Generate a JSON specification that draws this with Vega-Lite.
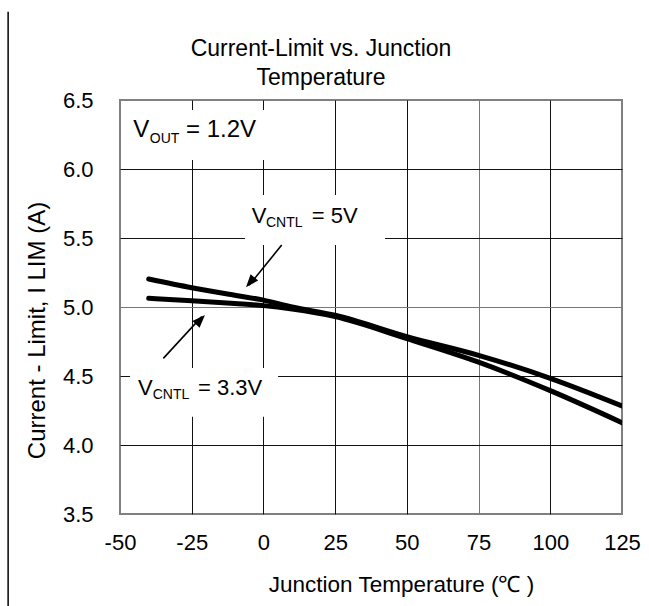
{
  "$schema": "https://vega.github.io/schema/vega-lite/v6.json",
  "width": 502,
  "height": 414,
  "autosize": {"type": "none"},
  "padding": {"left": 120, "top": 100, "right": 27, "bottom": 92},
  "background": "white",
  "config": {"view": {"stroke": "#808080", "strokeWidth": 2}, "font": "Liberation Sans"},
  "title": {
    "text": ["Current-Limit vs. Junction", "Temperature"],
    "fontSize": 23, "fontWeight": "normal", "font": "Liberation Sans", "color": "black",
    "anchor": "middle", "dx": -50, "dy": 89, "lineHeight": 29, "offset": 10
  },
  "datasets": {
    "curves": [
      {"series": "5V", "T": -40, "I": 5.203},
      {"series": "5V", "T": -25, "I": 5.14},
      {"series": "5V", "T": -10, "I": 5.085},
      {"series": "5V", "T": 0, "I": 5.05},
      {"series": "5V", "T": 10, "I": 5.0},
      {"series": "5V", "T": 25, "I": 4.94},
      {"series": "5V", "T": 50, "I": 4.785},
      {"series": "5V", "T": 75, "I": 4.65},
      {"series": "5V", "T": 100, "I": 4.483},
      {"series": "5V", "T": 125, "I": 4.283},
      {"series": "3.3V", "T": -40, "I": 5.063},
      {"series": "3.3V", "T": -25, "I": 5.045},
      {"series": "3.3V", "T": -10, "I": 5.025},
      {"series": "3.3V", "T": 0, "I": 5.01},
      {"series": "3.3V", "T": 10, "I": 4.985},
      {"series": "3.3V", "T": 25, "I": 4.93},
      {"series": "3.3V", "T": 50, "I": 4.77},
      {"series": "3.3V", "T": 75, "I": 4.6},
      {"series": "3.3V", "T": 100, "I": 4.394},
      {"series": "3.3V", "T": 125, "I": 4.162}
    ],
    "boxes": [
      {"T": -49.6, "T2": 2.3, "I": 6.065, "I2": 6.428},
      {"T": -6.4, "T2": 42.4, "I": 5.449, "I2": 5.812},
      {"T": -46.5, "T2": 5.1, "I": 4.205, "I2": 4.558}
    ],
    "arrows": [
      {"name": "5V", "T": 6.37, "I": 5.449, "T2": -5.0, "I2": 5.157},
      {"name": "3.3V", "T": -34.9, "I": 4.628, "T2": -21.5, "I2": 4.93}
    ],
    "tips": [
      {"name": "5V", "T": -6.08, "I": 5.143},
      {"name": "3.3V", "T": -20.37, "I": 4.942}
    ],
    "labels": [
      {"T": -45.35, "I": 6.234, "label": "V", "size": "big"},
      {"T": -27.0, "I": 6.234, "label": "= 1.2V", "size": "big"},
      {"T": -4.09, "I": 5.611, "label": "V", "size": "mid"},
      {"T": 16.83, "I": 5.611, "label": "= 5V", "size": "mid"},
      {"T": -43.73, "I": 4.362, "label": "V", "size": "mid"},
      {"T": -22.8, "I": 4.362, "label": "= 3.3V", "size": "mid"}
    ],
    "subs": [
      {"T": -39.6, "I": 6.191, "label": "OUT"},
      {"T": 0.9, "I": 5.582, "label": "CNTL"},
      {"T": -38.6, "I": 4.333, "label": "CNTL"}
    ],
    "edge": [
      {"T": -89.0, "I": 7.14, "I2": 2.8}
    ]
  },
  "encoding": {
    "x": {
      "field": "T", "type": "quantitative",
      "scale": {"domain": [-50, 125], "nice": false, "zero": false},
      "axis": {
        "values": [-50, -25, 0, 25, 50, 75, 100, 125],
        "labelExpr": "datum.value < 0 ? '-' + abs(datum.value) : '' + datum.value",
        "ticks": false, "domain": false,
        "labelFont": "Liberation Sans", "labelFontSize": 22, "labelColor": "black",
        "labelPadding": 18, "labelFlush": false, "labelOverlap": false,
        "gridColor": {"condition": {"test": "datum.value === 75", "value": "#777777"}, "value": "#111111"},
        "gridOpacity": {"condition": {"test": "datum.value === -50 || datum.value === 125", "value": 0}, "value": 1},
        "gridWidth": 1,
        "title": "Junction Temperature (℃ )",
        "titleFont": "Liberation Sans", "titleFontSize": 22.5, "titleFontWeight": "normal", "titleColor": "black",
        "titleX": 281, "titleY": 77, "titleAlign": "center", "titleBaseline": "alphabetic"
      }
    },
    "y": {
      "field": "I", "type": "quantitative",
      "scale": {"domain": [3.5, 6.5], "nice": false, "zero": false},
      "axis": {
        "values": [3.5, 4.0, 4.5, 5.0, 5.5, 6.0, 6.5],
        "format": ".1f",
        "ticks": false, "domain": false,
        "labelFont": "Liberation Sans", "labelFontSize": 22, "labelColor": "black",
        "labelPadding": 27, "labelFlush": false, "labelOverlap": false,
        "gridColor": {"condition": {"test": "datum.value === 5", "value": "#777777"}, "value": "#111111"},
        "gridOpacity": {"condition": {"test": "datum.value === 3.5 || datum.value === 6.5", "value": 0}, "value": 1},
        "gridWidth": 1,
        "title": "Current - Limit, I LIM (A)",
        "titleFont": "Liberation Sans", "titleFontSize": 24, "titleFontWeight": "normal", "titleColor": "black",
        "titleAngle": 270, "titleX": -83, "titleY": 230, "titleAlign": "center", "titleBaseline": "middle"
      }
    }
  },
  "layer": [
    {
      "data": {"name": "boxes"},
      "mark": {"type": "rect", "fill": "white", "stroke": null},
      "encoding": {"x2": {"field": "T2"}, "y2": {"field": "I2"}}
    },
    {
      "data": {"name": "curves"},
      "mark": {"type": "line", "interpolate": "monotone", "strokeWidth": 5, "color": "black", "strokeCap": "round", "clip": true},
      "encoding": {"detail": {"field": "series"}}
    },
    {
      "data": {"name": "arrows"},
      "mark": {"type": "rule", "color": "black", "strokeWidth": 1.6},
      "encoding": {"x2": {"field": "T2"}, "y2": {"field": "I2"}}
    },
    {
      "data": {"name": "tips"},
      "transform": [{"filter": "datum.name === '5V'"}],
      "mark": {"type": "point", "shape": "M0,0L-0.38,1L0.38,1Z", "filled": true, "color": "black", "opacity": 1, "size": 676, "angle": 220.2},
      "encoding": {}
    },
    {
      "data": {"name": "tips"},
      "transform": [{"filter": "datum.name === '3.3V'"}],
      "mark": {"type": "point", "shape": "M0,0L-0.38,1L0.38,1Z", "filled": true, "color": "black", "opacity": 1, "size": 676, "angle": 43.9},
      "encoding": {}
    },
    {
      "data": {"name": "labels"},
      "transform": [{"filter": "datum.size === 'big'"}],
      "mark": {"type": "text", "align": "left", "baseline": "alphabetic", "fontSize": 24, "font": "Liberation Sans", "color": "black"},
      "encoding": {"text": {"field": "label"}}
    },
    {
      "data": {"name": "labels"},
      "transform": [{"filter": "datum.size === 'mid'"}],
      "mark": {"type": "text", "align": "left", "baseline": "alphabetic", "fontSize": 22, "font": "Liberation Sans", "color": "black"},
      "encoding": {"text": {"field": "label"}}
    },
    {
      "data": {"name": "subs"},
      "mark": {"type": "text", "align": "left", "baseline": "alphabetic", "fontSize": 14, "font": "Liberation Sans", "color": "black"},
      "encoding": {"text": {"field": "label"}}
    },
    {
      "data": {"name": "edge"},
      "mark": {"type": "rule", "color": "black", "strokeWidth": 1.5},
      "encoding": {"y2": {"field": "I2"}}
    }
  ]
}
